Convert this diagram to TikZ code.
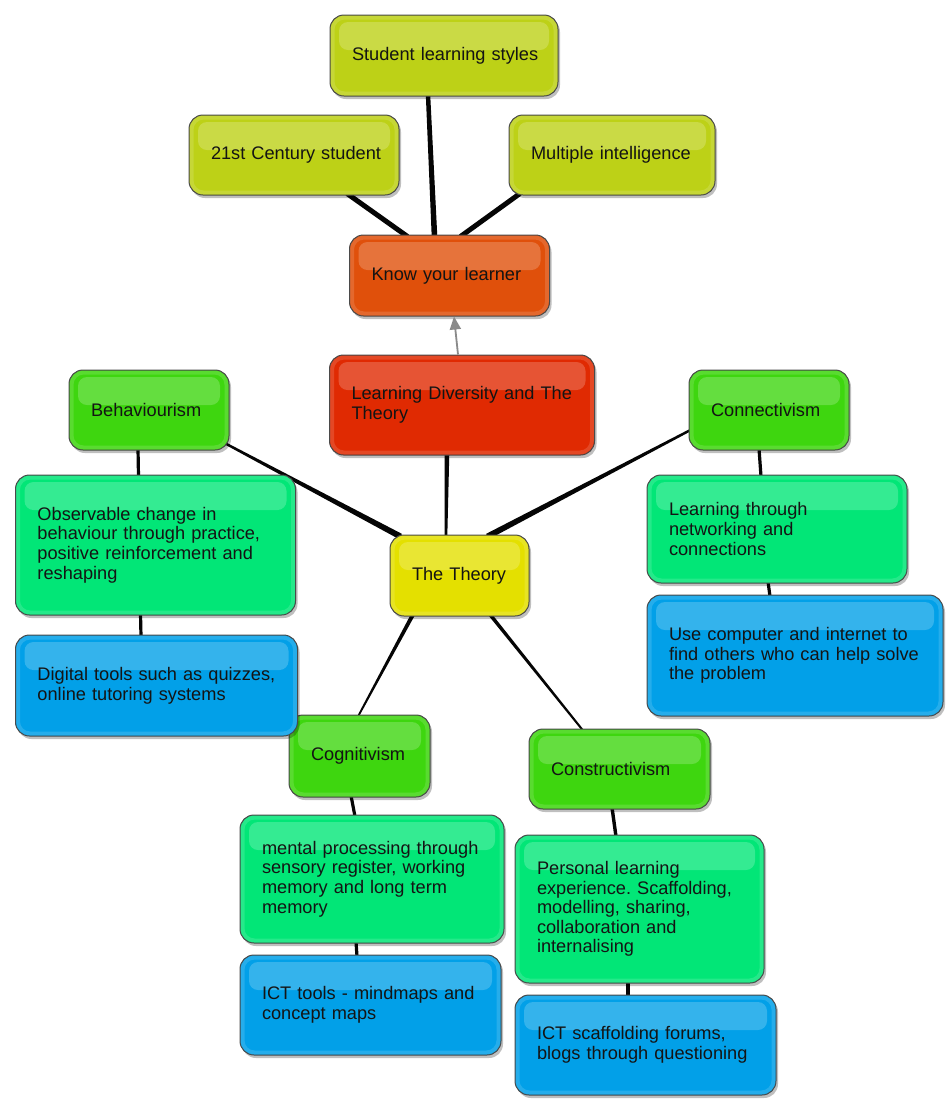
\documentclass[tikz,border=0pt]{standalone}
\usepackage{fontspec}
\setmainfont{Liberation Sans}
\usetikzlibrary{calc,shadows,arrows.meta,backgrounds}
\frenchspacing

\definecolor{cLime}{HTML}{BDD117}
\definecolor{cOrange}{HTML}{E0500B}
\definecolor{cRed}{HTML}{E02A02}
\definecolor{cYellow}{HTML}{E4E000}
\definecolor{cGreen}{HTML}{3ED60F}
\definecolor{cMint}{HTML}{02E677}
\definecolor{cBlue}{HTML}{02A0E8}
\definecolor{cEdge}{HTML}{4A4A4A}
\definecolor{cText}{HTML}{141414}
\definecolor{cArrow}{HTML}{8A8A8A}
\definecolor{cLine}{HTML}{050505}

\newcommand\TaperLink[4]{\fill[cLine] ($(#1)!#3!90:(#2)$) -- ($(#1)!#3!-90:(#2)$) -- ($(#2)!#4!90:(#1)$) -- ($(#2)!#4!-90:(#1)$) -- cycle;}

\tikzset{
  gbox/.style n args={2}{
    rounded corners=14pt, draw=cEdge, line width=1pt, fill=#2, text=cText,
    text width=#1, inner xsep=22pt, inner ysep=0pt, align=left,
    font=\fontsize{18.2}{19.6}\selectfont,
    drop shadow={shadow xshift=2pt, shadow yshift=-3pt, opacity=0.25, fill=black},
    path picture={
      \draw[white,opacity=0.14,line width=4pt,rounded corners=12pt]
      ($(path picture bounding box.north west)+(2.5pt,-2.5pt)$) rectangle
      ($(path picture bounding box.south east)+(-2.5pt,2.5pt)$);
      \fill[white,opacity=0.2,rounded corners=9pt]
      ($(path picture bounding box.north west)+(9pt,-7pt)$) rectangle
      ($(path picture bounding box.north east)+(-9pt,-35pt)$);}
  },
  linkarrow/.style={cArrow, line width=1.8pt, -{Triangle[width=11pt,length=13pt]}}
}

\begin{document}
\begin{tikzpicture}[x=1pt,y=-1pt]
\useasboundingbox (0,0) rectangle (952,1120);

% top cluster
\node[gbox={184pt}{cLime}, minimum height=81pt] (sls) at (444,55.5) {\mbox{Student learning styles}};
\node[gbox={166pt}{cLime}, minimum height=80pt] (c21) at (294,155) {\mbox{21st Century student}};
\node[gbox={162pt}{cLime}, minimum height=80pt] (mi) at (612,155) {\mbox{Multiple intelligence}};
\node[gbox={156pt}{cOrange}, minimum height=81pt] (kyl) at (449.5,275.5) {\mbox{Know your learner}};
\node[gbox={221pt}{cRed}, minimum height=100pt] (ldt) at (462,405) {\mbox{Learning Diversity and The}\\\mbox{Theory}};

% theories
\node[gbox={116pt}{cGreen}, minimum height=80pt] (beh) at (149,410) {\mbox{Behaviourism}};
\node[gbox={116pt}{cGreen}, minimum height=80pt] (con) at (769,410) {\mbox{Connectivism}};
\node[gbox={95pt}{cYellow}, minimum height=81pt] (thy) at (459.5,575.5) {\mbox{The Theory}};
\node[gbox={97pt}{cGreen}, minimum height=82pt] (cog) at (359.5,756) {\mbox{Cognitivism}};
\node[gbox={137pt}{cGreen}, minimum height=80pt] (cst) at (619.5,769) {\mbox{Constructivism}};

% descriptions
\node[gbox={236pt}{cMint}, minimum height=140pt] (obs) at (155.5,545) {\mbox{Observable change in}\\\mbox{behaviour through practice,}\\\mbox{positive reinforcement and}\\\mbox{reshaping}};
\node[gbox={216pt}{cMint}, minimum height=108pt] (ltn) at (777,529) {\mbox{Learning through}\\\mbox{networking and}\\\mbox{connections}};
\node[gbox={220pt}{cMint}, minimum height=128pt] (men) at (372,879) {\mbox{mental processing through}\\\mbox{sensory register, working}\\\mbox{memory and long term}\\\mbox{memory}};
\node[gbox={205pt}{cMint}, minimum height=148pt] (per) at (639.5,909) {\mbox{Personal learning}\\\mbox{experience. Scaffolding,}\\\mbox{modelling, sharing,}\\\mbox{collaboration and}\\\mbox{internalising}};

% tools
\node[gbox={238pt}{cBlue}, minimum height=101pt] (dig) at (156.5,685.5) {\mbox{Digital tools such as quizzes,}\\\mbox{online tutoring systems}};
\node[gbox={252pt}{cBlue}, minimum height=121pt] (use) at (795,655.5) {\mbox{Use computer and internet to}\\\mbox{find others who can help solve}\\\mbox{the problem}};
\node[gbox={217pt}{cBlue}, minimum height=100pt] (ict) at (370.5,1005) {\mbox{ICT tools - mindmaps and}\\\mbox{concept maps}};
\node[gbox={217pt}{cBlue}, minimum height=100pt] (scf) at (645.5,1045) {\mbox{ICT scaffolding forums,}\\\mbox{blogs through questioning}};

% arrow
\draw[linkarrow] ($(ldt.north)+(-4,0)$) -- ($(kyl.south)+(4.5,0)$);

\begin{scope}[on background layer]
\fill[white] (0,0) rectangle (952,1120);
\coordinate (a1) at ($(sls.south)+(-16,-2)$); \coordinate (b1) at ($(kyl.north)+(-15,2)$);
\TaperLink{a1}{b1}{2.2pt}{2.8pt}
\coordinate (a2) at ($(c21.south)+(53,-2)$); \coordinate (b2) at ($(kyl.north)+(-42,2)$);
\TaperLink{a2}{b2}{2.5pt}{2.5pt}
\coordinate (a3) at ($(mi.south)+(-92,-2)$); \coordinate (b3) at ($(kyl.north)+(11,2)$);
\TaperLink{a3}{b3}{2.5pt}{2.5pt}
\coordinate (a5) at ($(ldt.south)+(-15,-2)$); \coordinate (b5) at ($(thy.north)+(-13.5,2)$);
\TaperLink{a5}{b5}{2.3pt}{1.3pt}
\coordinate (a6) at ($(beh.south east)+(-4,-7)$); \coordinate (b6) at ($(thy.north)+(-59,2)$);
\TaperLink{a6}{b6}{1.2pt}{3pt}
\coordinate (a7) at ($(con.west)+(2,20)$); \coordinate (b7) at ($(thy.north)+(28,2)$);
\TaperLink{a7}{b7}{1.2pt}{3pt}
\coordinate (a8) at ($(beh.south)+(-11,-2)$); \coordinate (b8) at ($(obs.north)+(-17,2)$);
\TaperLink{a8}{b8}{1.6pt}{1.6pt}
\coordinate (a9) at ($(obs.south)+(-15,-2)$); \coordinate (b9) at ($(dig.north)+(-15.5,2)$);
\TaperLink{a9}{b9}{1.6pt}{1.6pt}
\coordinate (a10) at ($(con.south)+(-10,-2)$); \coordinate (b10) at ($(ltn.north)+(-16,2)$);
\TaperLink{a10}{b10}{1.6pt}{1.6pt}
\coordinate (a11) at ($(ltn.south)+(-9,-2)$); \coordinate (b11) at ($(use.north)+(-25,2)$);
\TaperLink{a11}{b11}{1.6pt}{1.6pt}
\coordinate (a12) at ($(thy.south)+(-46.5,-2)$); \coordinate (b12) at ($(cog.north)+(-1.5,2)$);
\TaperLink{a12}{b12}{2pt}{0.9pt}
\coordinate (a13) at ($(thy.south)+(30.5,-2)$); \coordinate (b13) at ($(cst.north)+(-36.5,2)$);
\TaperLink{a13}{b13}{1.8pt}{1pt}
\coordinate (a14) at ($(cog.south)+(-8.5,-2)$); \coordinate (b14) at ($(men.north)+(-17,2)$);
\TaperLink{a14}{b14}{1.6pt}{1.6pt}
\coordinate (a15) at ($(men.south)+(-16,-2)$); \coordinate (b15) at ($(ict.north)+(-13.5,2)$);
\TaperLink{a15}{b15}{1.6pt}{1.6pt}
\coordinate (a16) at ($(cst.south)+(-7.5,-2)$); \coordinate (b16) at ($(per.north)+(-23.5,2)$);
\TaperLink{a16}{b16}{1.7pt}{1.7pt}
\coordinate (a17) at ($(per.south)+(-11.5,-2)$); \coordinate (b17) at ($(scf.north)+(-17.5,2)$);
\TaperLink{a17}{b17}{1.6pt}{1.6pt}
\end{scope}
\end{tikzpicture}
\end{document}
